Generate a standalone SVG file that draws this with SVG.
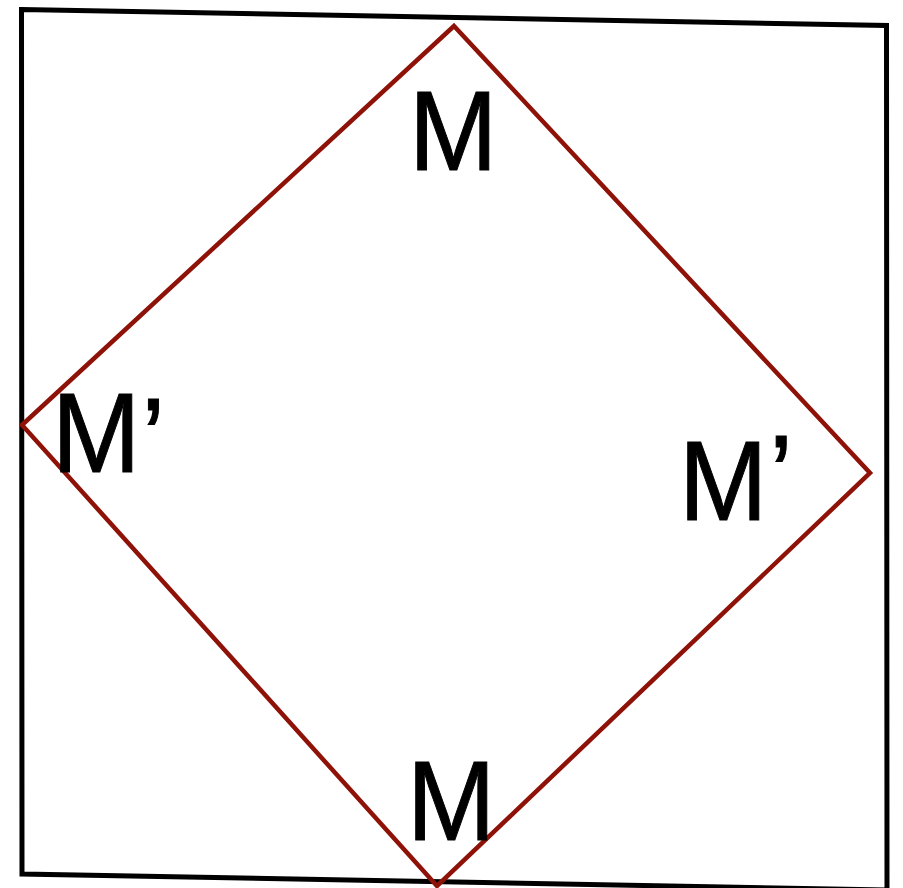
<svg xmlns="http://www.w3.org/2000/svg" width="903" height="888" viewBox="0 0 903 888">
<style>
.frame{fill:none;stroke:#000;stroke-width:5;stroke-linejoin:miter}
.dia{fill:none;stroke:#8e1208;stroke-width:4.5}
.lbl{font-family:"Liberation Sans",Arial,sans-serif;font-size:113px;fill:#000;stroke:#000;stroke-width:1}
</style>
<rect width="903" height="888" fill="#fff"/>
<g id="frame"><polygon class="frame" points="21.5,9.5 886.5,25.5 887,890 22,874"/></g>
<g id="connectors"><polygon class="dia" points="454,26 870,473 437,886 22,425"/></g>
<g id="top"><text class="lbl" transform="translate(409,170) scale(0.94,1)">M</text></g>
<g id="bottom"><text class="lbl" transform="translate(407,840) scale(0.94,1)">M</text></g>
<g id="left"><text class="lbl" transform="translate(52,472) scale(0.94,1)">M<tspan dx="1" dy="5">’</tspan></text></g>
<g id="right"><text class="lbl" transform="translate(679,520) scale(0.94,1)">M<tspan dx="2" dy="-6">’</tspan></text></g>
</svg>
